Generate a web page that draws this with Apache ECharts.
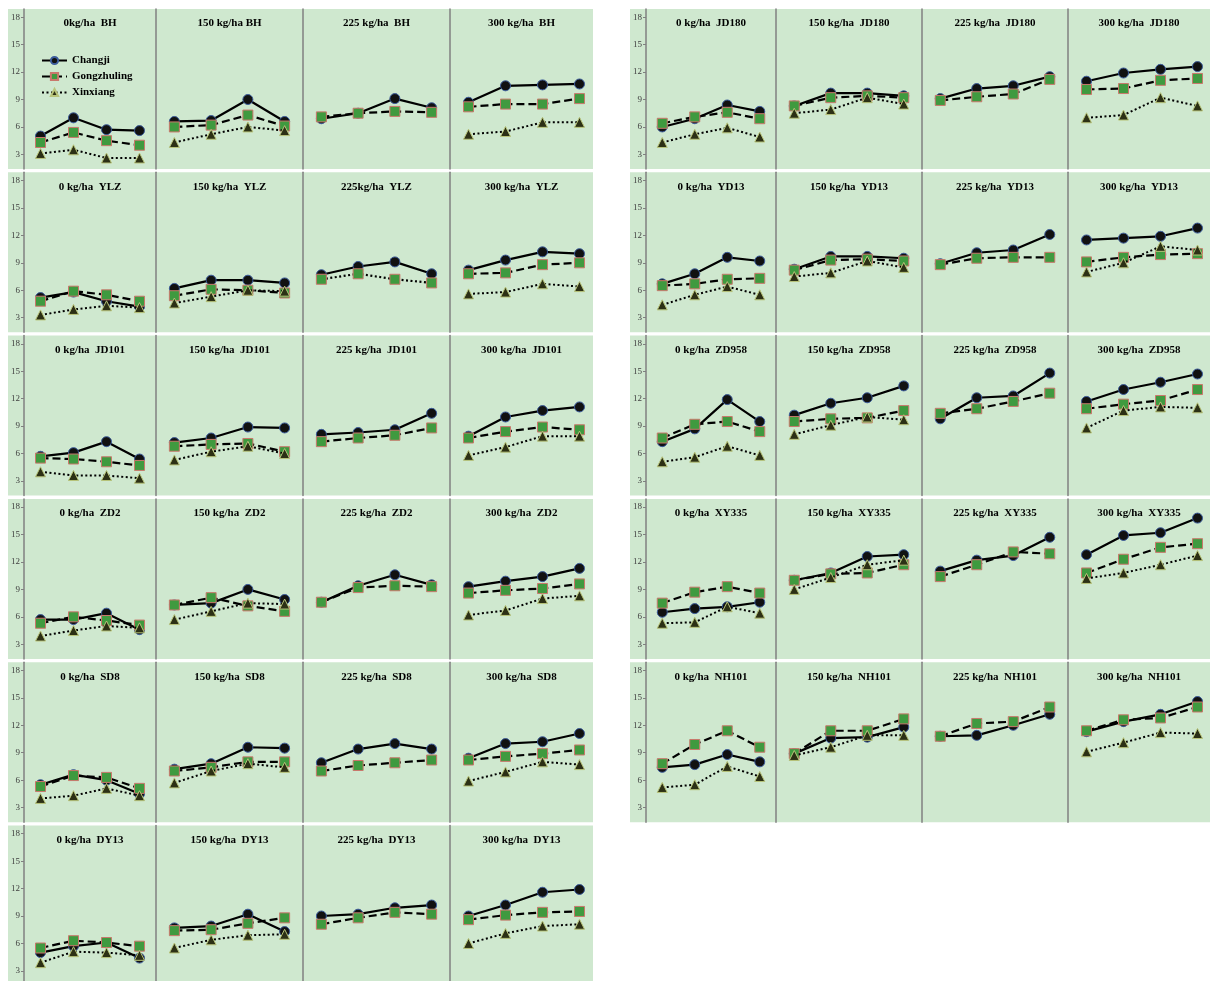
<!DOCTYPE html>
<html><head><meta charset="utf-8">
<script src="https://cdn.jsdelivr.net/npm/echarts@6/dist/echarts.min.js"></script>
<style>html,body{margin:0;padding:0;background:#fff}#c{width:1210px;height:981px}</style>
</head><body><div id="c"></div><script>
// ---------- data ----------
const seriesNames = ['Changji', 'Gongzhuling', 'Xinxiang'];
const categories = ['1', '2', '3', '4'];
const yTicks = [3, 6, 9, 12, 15, 18];
const leftVarieties = ['BH', 'YLZ', 'JD101', 'ZD2', 'SD8', 'DY13'];
const rightVarieties = ['JD180', 'YD13', 'ZD958', 'XY335', 'NH101'];

const titles_BH = ['0kg/ha  BH', '150 kg/ha BH', '225 kg/ha  BH', '300 kg/ha  BH'];
const titles_YLZ = ['0 kg/ha  YLZ', '150 kg/ha  YLZ', '225kg/ha  YLZ', '300 kg/ha  YLZ'];
const titles_JD101 = ['0 kg/ha  JD101', '150 kg/ha  JD101', '225 kg/ha  JD101', '300 kg/ha  JD101'];
const titles_ZD2 = ['0 kg/ha  ZD2', '150 kg/ha  ZD2', '225 kg/ha  ZD2', '300 kg/ha  ZD2'];
const titles_SD8 = ['0 kg/ha  SD8', '150 kg/ha  SD8', '225 kg/ha  SD8', '300 kg/ha  SD8'];
const titles_DY13 = ['0 kg/ha  DY13', '150 kg/ha  DY13', '225 kg/ha  DY13', '300 kg/ha  DY13'];
const titles_JD180 = ['0 kg/ha  JD180', '150 kg/ha  JD180', '225 kg/ha  JD180', '300 kg/ha  JD180'];
const titles_YD13 = ['0 kg/ha  YD13', '150 kg/ha  YD13', '225 kg/ha  YD13', '300 kg/ha  YD13'];
const titles_ZD958 = ['0 kg/ha  ZD958', '150 kg/ha  ZD958', '225 kg/ha  ZD958', '300 kg/ha  ZD958'];
const titles_XY335 = ['0 kg/ha  XY335', '150 kg/ha  XY335', '225 kg/ha  XY335', '300 kg/ha  XY335'];
const titles_NH101 = ['0 kg/ha  NH101', '150 kg/ha  NH101', '225 kg/ha  NH101', '300 kg/ha  NH101'];

// each array: [0 kg/ha, 150 kg/ha, 225 kg/ha, 300 kg/ha] panels, 4 points each
const changji_BH = [[5.0,7.0,5.7,5.6],[6.6,6.7,9.0,6.6],[6.9,7.5,9.1,8.1],[8.7,10.5,10.6,10.7]];
const gongzhuling_BH = [[4.3,5.4,4.5,4.0],[6.0,6.2,7.3,6.1],[7.1,7.5,7.7,7.6],[8.2,8.5,8.5,9.1]];
const xinxiang_BH = [[3.1,3.5,2.6,2.6],[4.3,5.2,6.0,5.6],null,[5.2,5.5,6.5,6.5]];

const changji_YLZ = [[5.2,5.8,4.8,4.2],[6.2,7.1,7.1,6.8],[7.7,8.6,9.1,7.8],[8.2,9.3,10.2,10.0]];
const gongzhuling_YLZ = [[4.8,5.9,5.5,4.8],[5.4,6.1,6.0,5.7],[7.2,7.8,7.2,6.8],[7.8,7.9,8.8,9.0]];
const xinxiang_YLZ = [[3.3,3.9,4.3,4.1],[4.6,5.3,6.0,5.9],null,[5.6,5.8,6.7,6.4]];

const changji_JD101 = [[5.7,6.1,7.3,5.4],[7.2,7.7,8.9,8.8],[8.1,8.3,8.6,10.4],[7.9,10.0,10.7,11.1]];
const gongzhuling_JD101 = [[5.5,5.4,5.1,4.7],[6.8,7.0,7.1,6.2],[7.3,7.7,8.0,8.8],[7.7,8.4,8.9,8.6]];
const xinxiang_JD101 = [[4.0,3.6,3.6,3.3],[5.3,6.2,6.8,6.0],null,[5.8,6.7,7.9,7.9]];

const changji_ZD2 = [[5.7,5.7,6.4,4.6],[7.3,7.5,9.0,7.9],[7.6,9.4,10.6,9.5],[9.3,9.9,10.4,11.3]];
const gongzhuling_ZD2 = [[5.3,6.0,5.6,5.1],[7.3,8.1,7.2,6.6],[7.6,9.2,9.4,9.3],[8.6,8.9,9.1,9.6]];
const xinxiang_ZD2 = [[3.9,4.5,5.0,4.8],[5.7,6.6,7.5,7.4],null,[6.2,6.7,8.0,8.3]];

const changji_SD8 = [[5.5,6.6,6.0,4.5],[7.2,7.8,9.6,9.5],[7.9,9.4,10.0,9.4],[8.4,10.0,10.2,11.1]];
const gongzhuling_SD8 = [[5.3,6.5,6.3,5.1],[7.0,7.4,8.0,8.0],[7.0,7.6,7.9,8.2],[8.2,8.6,8.9,9.3]];
const xinxiang_SD8 = [[4.0,4.3,5.1,4.3],[5.7,7.0,7.8,7.4],null,[5.9,6.9,8.0,7.7]];

const changji_DY13 = [[5.0,5.7,6.1,4.4],[7.7,7.9,9.2,7.3],[9.0,9.2,9.9,10.2],[9.0,10.2,11.6,11.9]];
const gongzhuling_DY13 = [[5.5,6.3,6.1,5.7],[7.4,7.5,8.2,8.8],[8.1,8.8,9.4,9.2],[8.6,9.1,9.4,9.5]];
const xinxiang_DY13 = [[3.9,5.1,5.0,4.7],[5.5,6.4,6.9,7.0],null,[6.0,7.1,7.9,8.1]];

const changji_JD180 = [[6.0,6.9,8.4,7.7],[8.3,9.7,9.7,9.4],[9.1,10.2,10.5,11.5],[11.0,11.9,12.3,12.6]];
const gongzhuling_JD180 = [[6.4,7.1,7.6,6.9],[8.3,9.2,9.4,9.2],[8.9,9.3,9.6,11.2],[10.1,10.2,11.1,11.3]];
const xinxiang_JD180 = [[4.3,5.2,5.9,4.9],[7.5,7.9,9.2,8.5],null,[7.0,7.3,9.2,8.3]];

const changji_YD13 = [[6.7,7.8,9.6,9.2],[8.3,9.7,9.7,9.5],[8.9,10.1,10.4,12.1],[11.5,11.7,11.9,12.8]];
const gongzhuling_YD13 = [[6.5,6.7,7.2,7.3],[8.2,9.3,9.4,9.2],[8.8,9.5,9.6,9.6],[9.1,9.6,9.9,10.0]];
const xinxiang_YD13 = [[4.4,5.5,6.4,5.5],[7.5,7.9,9.2,8.5],null,[8.0,9.0,10.8,10.4]];

const changji_ZD958 = [[7.3,8.7,11.9,9.5],[10.2,11.5,12.1,13.4],[9.8,12.1,12.3,14.8],[11.7,13.0,13.8,14.7]];
const gongzhuling_ZD958 = [[7.7,9.2,9.5,8.4],[9.5,9.8,9.9,10.7],[10.4,10.9,11.7,12.6],[10.9,11.4,11.8,13.0]];
const xinxiang_ZD958 = [[5.1,5.6,6.8,5.8],[8.1,9.1,10.0,9.7],null,[8.8,10.7,11.1,11.0]];

const changji_XY335 = [[6.5,6.9,7.1,7.6],[10.0,10.8,12.6,12.8],[11.0,12.2,12.7,14.7],[12.8,14.9,15.2,16.8]];
const gongzhuling_XY335 = [[7.5,8.7,9.3,8.6],[10.0,10.7,10.8,11.7],[10.4,11.7,13.1,12.9],[10.8,12.3,13.6,14.0]];
const xinxiang_XY335 = [[5.3,5.4,7.1,6.4],[9.0,10.3,11.7,12.2],null,[10.2,10.8,11.7,12.7]];

const changji_NH101 = [[7.4,7.7,8.8,8.0],[8.9,10.6,10.7,11.8],[10.8,10.9,12.0,13.2],[11.3,12.4,13.2,14.6]];
const gongzhuling_NH101 = [[7.8,9.9,11.4,9.6],[8.9,11.4,11.4,12.7],[10.8,12.2,12.4,14.0],[11.4,12.6,12.8,14.0]];
const xinxiang_NH101 = [[5.2,5.5,7.5,6.4],[8.7,9.6,10.9,10.9],null,[9.1,10.1,11.2,11.1]];

// ---------- lookup tables built from the arrays above ----------
const dataTable = {
  BH: [changji_BH, gongzhuling_BH, xinxiang_BH, titles_BH],
  YLZ: [changji_YLZ, gongzhuling_YLZ, xinxiang_YLZ, titles_YLZ],
  JD101: [changji_JD101, gongzhuling_JD101, xinxiang_JD101, titles_JD101],
  ZD2: [changji_ZD2, gongzhuling_ZD2, xinxiang_ZD2, titles_ZD2],
  SD8: [changji_SD8, gongzhuling_SD8, xinxiang_SD8, titles_SD8],
  DY13: [changji_DY13, gongzhuling_DY13, xinxiang_DY13, titles_DY13],
  JD180: [changji_JD180, gongzhuling_JD180, xinxiang_JD180, titles_JD180],
  YD13: [changji_YD13, gongzhuling_YD13, xinxiang_YD13, titles_YD13],
  ZD958: [changji_ZD958, gongzhuling_ZD958, xinxiang_ZD958, titles_ZD958],
  XY335: [changji_XY335, gongzhuling_XY335, xinxiang_XY335, titles_XY335],
  NH101: [changji_NH101, gongzhuling_NH101, xinxiang_NH101, titles_NH101]
};

// ---------- layout & style ----------
const ROW_TOP = 9, ROW_PITCH = 163.3, ROW_H = 160;
const Y_MIN = 1.4, Y_MAX = 18.9;
const BG = '#cfe8cf';
const DIV = '#808080';
const SERIF = '"Liberation Serif","Times New Roman",serif';
const blocks = [
  { vars: leftVarieties, bg: [8, 593], edges: [24, 156, 303, 450, 598] },
  { vars: rightVarieties, bg: [630, 1210], edges: [646, 776, 922, 1068, 1216] }
];
const styles = [
  { symbol: 'circle', size: 10, color: '#111', border: '#3b5b9b', line: 'solid', lw: 2.2 },
  { symbol: 'rect', size: 10, color: '#3f9a3f', border: '#c9786c', line: [8, 4], lw: 2.2 },
  { symbol: 'triangle', size: 10, color: '#2c3015', border: '#b8c47a', line: [2, 2.5], lw: 2 }
];

const grids = [], xAxes = [], yAxes = [], series = [], graphics = [];
blocks.forEach(function (b) {
  b.vars.forEach(function (v, r) {
    const top = ROW_TOP + r * ROW_PITCH;
    graphics.push({ type: 'rect', z: -10, shape: { x: b.bg[0], y: top, width: b.bg[1] - b.bg[0], height: ROW_H }, style: { fill: BG } });
    const d = dataTable[v];
    for (let p = 0; p < 4; p++) {
      const gi = grids.length;
      const x0 = b.edges[p], x1 = b.edges[p + 1];
      grids.push({ left: x0, top: top, width: x1 - x0, height: ROW_H, outerBoundsMode: 'none', containLabel: false });
      xAxes.push({ type: 'category', gridIndex: gi, data: categories, show: false });
      yAxes.push({
        type: 'value', gridIndex: gi, min: Y_MIN, max: Y_MAX,
        splitLine: { show: false },
        axisLine: { show: true, lineStyle: { color: DIV, width: 1.5 } },
        axisTick: { show: p === 0, customValues: yTicks, length: 3, lineStyle: { color: DIV } },
        axisLabel: { show: p === 0, customValues: yTicks, fontSize: 9, fontFamily: SERIF, color: '#404040', margin: 4 }
      });
      graphics.push({ type: 'text', z: 10, x: (x0 + Math.min(x1, b.bg[1] + 4)) / 2 - (p === 3 ? 2 : 0), y: top + 9,
        style: { text: d[3][p], textAlign: 'center', font: 'bold 11px ' + SERIF, fill: '#000' } });
      for (let s = 0; s < 3; s++) {
        const vals = d[s][p];
        if (!vals) continue;
        const st = styles[s];
        let lineType = st.line;
        if (v === 'YLZ' && p === 2 && s === 1) lineType = [2, 2.5]; // drawn dotted in the source
        series.push({
          name: seriesNames[s], type: 'line', xAxisIndex: gi, yAxisIndex: gi,
          data: vals, symbol: st.symbol, symbolSize: st.size, showSymbol: true,
          lineStyle: { color: '#000', width: st.lw, type: lineType },
          itemStyle: { color: st.color, borderColor: st.border, borderWidth: 1 },
          emphasis: { disabled: true }, animation: false, z: 2 + s
        });
      }
    }
  });
});

const chart = echarts.init(document.getElementById('c'), null, { renderer: 'canvas' });
chart.setOption({
  animation: false,
  grid: grids, xAxis: xAxes, yAxis: yAxes, series: series,
  graphic: graphics,
  legend: {
    data: seriesNames, orient: 'vertical', left: 36, top: 50,
    itemWidth: 25, itemHeight: 9, itemGap: 5,
    textStyle: { fontFamily: SERIF, fontWeight: 'bold', fontSize: 11, color: '#000' }
  }
});
</script></body></html>
